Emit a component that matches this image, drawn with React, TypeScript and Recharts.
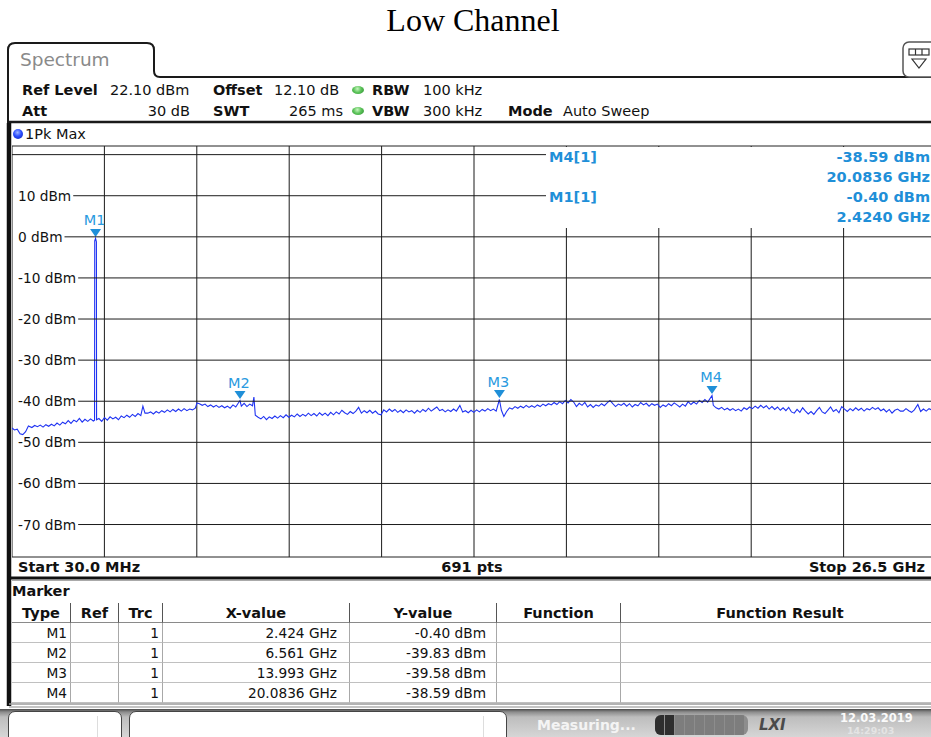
import React from 'react';
import { ComposedChart, Line, Scatter, XAxis, YAxis, CartesianGrid } from 'recharts';

const F = '"DejaVu Sans", Verdana, sans-serif';
const MK = '#1f8fd8';

const START_GHZ = 0.03;
const STOP_GHZ = 26.5;
const REF_LEVEL = 22.1;
const BOTTOM_LEVEL = -77.9;

const yTicks = [20, 10, 0, -10, -20, -30, -40, -50, -60, -70];
const yTickLabels = ['', '10 dBm', '0 dBm', '-10 dBm', '-20 dBm', '-30 dBm', '-40 dBm', '-50 dBm', '-60 dBm', '-70 dBm'];
const xGridGHz = [2.677, 5.324, 7.971, 10.618, 13.265, 15.912, 18.559, 21.206, 23.853];

// trace: [frequency GHz, level dBm]
const traceLow: [number, number][] = [
  [0.03, -46.5], [0.10, -47.0], [0.18, -46.8], [0.26, -47.9], [0.34, -48.1], [0.42, -47.4], [0.50, -46.0],
  [0.60, -46.4], [0.68, -45.9], [0.76, -46.2], [0.84, -45.8], [0.92, -46.3], [1.00, -45.7], [1.08, -46.1],
  [1.16, -45.6], [1.24, -46.0], [1.32, -45.3], [1.40, -45.8], [1.48, -45.1], [1.56, -45.5], [1.64, -44.7],
  [1.72, -45.4], [1.80, -44.6], [1.88, -45.0], [1.96, -44.2], [2.04, -45.1], [2.12, -44.4], [2.20, -44.9],
  [2.28, -44.3], [2.36, -44.8], [2.395, -44.6], [2.40, -1.0], [2.424, -0.4], [2.448, -1.2], [2.453, -44.5],
  [2.52, -44.2], [2.60, -44.9], [2.68, -44.0], [2.76, -44.6], [2.84, -43.8], [2.92, -44.3], [3.00, -43.9],
  [3.08, -44.5], [3.16, -43.6], [3.24, -44.0], [3.32, -43.4], [3.40, -43.9], [3.48, -43.2], [3.56, -43.7],
  [3.64, -43.0], [3.72, -43.5], [3.78, -41.2], [3.84, -42.9], [3.92, -42.9], [4.00, -42.6], [4.08, -43.1],
  [4.16, -42.5], [4.24, -42.9], [4.32, -42.3], [4.40, -42.7], [4.48, -42.1], [4.56, -42.6], [4.64, -42.0],
  [4.72, -42.5], [4.80, -41.9], [4.88, -42.4], [4.96, -41.8], [5.04, -42.3], [5.12, -41.9], [5.20, -42.1],
  [5.28, -41.7], [5.33, -40.4], [5.40, -40.6], [5.48, -41.0], [5.56, -40.7], [5.64, -41.3], [5.72, -40.9],
  [5.80, -41.4], [5.88, -41.0], [5.96, -41.5], [6.04, -41.1], [6.12, -41.6], [6.20, -41.2], [6.28, -41.7],
  [6.36, -40.9], [6.44, -41.4], [6.50, -40.6], [6.561, -39.83], [6.60, -41.2], [6.68, -40.5], [6.76, -41.3],
  [6.84, -40.7], [6.92, -41.1], [6.96, -39.0], [7.00, -43.4], [7.08, -43.9], [7.16, -44.3], [7.24, -43.7],
  [7.32, -44.5], [7.40, -43.8], [7.48, -44.2], [7.56, -43.6], [7.64, -44.1], [7.72, -43.5], [7.80, -44.0],
  [7.88, -43.3], [7.96, -43.9], [8.04, -43.4], [8.12, -43.8], [8.20, -43.1], [8.28, -43.7], [8.36, -43.2],
  [8.44, -43.6], [8.52, -42.9], [8.60, -43.5], [8.68, -43.0], [8.76, -43.6], [8.84, -42.8], [8.92, -43.4],
  [9.00, -42.9], [9.08, -43.5], [9.16, -42.7], [9.24, -43.3], [9.32, -42.6], [9.40, -43.1], [9.48, -42.2],
  [9.56, -42.8], [9.64, -43.2], [9.72, -42.5], [9.80, -43.0], [9.88, -42.4], [9.96, -41.5], [10.04, -42.9],
  [10.12, -42.3], [10.20, -42.8], [10.28, -42.2], [10.36, -42.9], [10.44, -42.4], [10.52, -43.1], [10.60, -43.3],
  [10.68, -42.1], [10.76, -42.6], [10.84, -41.9], [10.92, -42.5], [11.00, -42.0], [11.08, -42.7], [11.16, -42.2],
  [11.24, -42.8], [11.32, -42.1], [11.40, -42.6], [11.48, -42.3], [11.56, -42.9], [11.64, -42.2], [11.72, -42.7],
  [11.80, -42.0], [11.88, -42.5], [11.96, -41.7], [12.04, -42.4], [12.12, -41.9], [12.20, -41.4], [12.28, -42.3],
  [12.36, -42.0], [12.44, -42.6], [12.52, -42.1], [12.60, -42.5], [12.68, -41.9], [12.76, -42.4], [12.86, -41.0],
  [12.94, -42.6], [13.02, -42.3], [13.10, -42.8], [13.18, -42.2], [13.26, -42.7], [13.34, -42.1], [13.42, -42.6],
  [13.50, -42.0], [13.58, -42.4], [13.66, -41.8], [13.74, -42.3], [13.82, -41.9], [13.90, -42.4], [13.993, -39.58],
];

const traceHigh: [number, number][] = [
  [14.05, -42.2], [14.12, -43.7], [14.20, -42.5], [14.28, -41.6], [14.36, -41.9], [14.44, -41.3], [14.52, -41.7],
  [14.60, -41.2], [14.68, -41.6], [14.76, -41.0], [14.84, -41.5], [14.92, -41.1], [15.00, -41.5], [15.08, -40.9],
  [15.16, -41.3], [15.24, -40.7], [15.32, -41.1], [15.40, -40.6], [15.48, -40.9], [15.56, -40.3], [15.64, -40.8],
  [15.72, -40.1], [15.80, -40.6], [15.88, -39.8], [15.96, -40.4], [16.04, -39.6], [16.12, -40.2], [16.20, -41.3],
  [16.28, -40.5], [16.36, -41.0], [16.44, -40.3], [16.52, -41.4], [16.60, -40.8], [16.68, -41.5], [16.76, -40.9],
  [16.84, -41.2], [16.92, -40.6], [17.00, -41.1], [17.08, -40.4], [17.16, -39.8], [17.24, -40.6], [17.32, -41.3],
  [17.40, -40.7], [17.48, -41.0], [17.56, -40.5], [17.64, -41.2], [17.72, -40.6], [17.80, -41.4], [17.88, -40.8],
  [17.96, -41.1], [18.04, -40.3], [18.12, -40.9], [18.20, -40.5], [18.28, -41.2], [18.36, -40.6], [18.44, -41.0],
  [18.52, -40.7], [18.60, -41.5], [18.68, -40.9], [18.76, -41.3], [18.84, -40.6], [18.92, -41.1], [19.00, -40.4],
  [19.08, -40.9], [19.16, -41.4], [19.24, -40.7], [19.32, -41.2], [19.40, -40.1], [19.48, -40.8], [19.56, -40.2],
  [19.64, -40.7], [19.72, -39.8], [19.80, -40.3], [19.88, -39.6], [19.96, -40.2], [20.0836, -38.59], [20.12, -41.0],
  [20.20, -41.6], [20.28, -41.9], [20.36, -41.5], [20.44, -42.1], [20.52, -41.7], [20.60, -42.2], [20.68, -41.8],
  [20.76, -42.3], [20.84, -41.9], [20.92, -42.4], [21.00, -41.6], [21.08, -42.0], [21.16, -41.4], [21.24, -41.8],
  [21.32, -41.2], [21.40, -41.7], [21.48, -41.0], [21.56, -41.6], [21.64, -41.1], [21.72, -41.9], [21.80, -41.3],
  [21.88, -42.0], [21.96, -41.4], [22.04, -42.2], [22.12, -41.6], [22.20, -42.3], [22.28, -41.5], [22.36, -42.6],
  [22.44, -42.9], [22.52, -42.0], [22.60, -42.7], [22.68, -41.6], [22.76, -42.4], [22.84, -43.1], [22.92, -42.5],
  [23.00, -43.2], [23.08, -42.3], [23.16, -41.5], [23.24, -42.6], [23.32, -43.0], [23.40, -42.2], [23.48, -41.4],
  [23.56, -42.5], [23.64, -42.0], [23.72, -42.8], [23.80, -41.3], [23.88, -41.9], [23.96, -42.5], [24.04, -41.8],
  [24.12, -42.3], [24.20, -41.6], [24.28, -42.2], [24.36, -41.7], [24.44, -42.4], [24.52, -41.8], [24.60, -42.1],
  [24.68, -41.5], [24.76, -42.0], [24.84, -41.6], [24.92, -42.3], [25.00, -41.9], [25.08, -42.6], [25.16, -42.0],
  [25.24, -42.9], [25.32, -42.2], [25.40, -41.9], [25.48, -42.4], [25.56, -42.4], [25.64, -41.8], [25.72, -42.3],
  [25.80, -42.7], [25.88, -42.1], [25.98, -40.8], [26.06, -42.5], [26.14, -41.9], [26.22, -42.4], [26.30, -41.8],
  [26.40, -42.2], [26.50, -41.9],
];

const markers = [
  { name: 'M1', f: 2.424, v: -0.4 },
  { name: 'M2', f: 6.561, v: -39.83 },
  { name: 'M3', f: 13.993, v: -39.58 },
  { name: 'M4', f: 20.0836, v: -38.59 },
];

const tableColEdges = [12, 71, 119, 163, 350, 497, 621, 940];
const tableHeaders = ['Type', 'Ref', 'Trc', 'X-value', 'Y-value', 'Function', 'Function Result'];
const tableRows = [
  ['M1', '', '1', '2.424 GHz', '-0.40 dBm', '', ''],
  ['M2', '', '1', '6.561 GHz', '-39.83 dBm', '', ''],
  ['M3', '', '1', '13.993 GHz', '-39.58 dBm', '', ''],
  ['M4', '', '1', '20.0836 GHz', '-38.59 dBm', '', ''],
];
const cellPadRight = [3, 3, 3, 12, 10, 4, 4];

const traceData = [...traceLow, ...traceHigh].map(([f, v]) => ({ f, v }));

type TxtProps = { x: number; y: number; align?: 'left' | 'right' | 'center'; bold?: boolean; size?: number; color?: string; family?: string; children?: React.ReactNode; italic?: boolean };
function Txt({ x, y, align = 'left', bold, size = 14.5, color = '#111', family = F, children, italic }: TxtProps) {
  const style: React.CSSProperties = {
    position: 'absolute', top: y - 10, height: 20, lineHeight: '20px', fontSize: size,
    fontWeight: bold ? 'bold' : 'normal', fontStyle: italic ? 'italic' : 'normal', color, fontFamily: family, whiteSpace: 'nowrap',
  };
  if (align === 'left') style.left = x;
  else if (align === 'right') { style.left = x - 400; style.width = 400; style.textAlign = 'right'; }
  else { style.left = x - 300; style.width = 600; style.textAlign = 'center'; }
  return <div style={style}>{children}</div>;
}

function Dot({ x, y, kind }: { x: number; y: number; kind: 'green' | 'blue' }) {
  const bg = kind === 'green'
    ? 'radial-gradient(circle at 45% 35%, #c8f5c0 0%, #5cc45a 45%, #2e8a30 100%)'
    : 'radial-gradient(circle at 45% 35%, #9fb4ff 0%, #2b4dff 45%, #0a1fb0 100%)';
  const w = kind === 'green' ? 12 : 10;
  const h = kind === 'green' ? 8 : 10;
  return <div style={{ position: 'absolute', left: x - w / 2, top: y - h / 2, width: w, height: h, borderRadius: '50%', background: bg }} />;
}

// approximate DejaVu Sans advance widths (em) for the tick label characters
const charEm: Record<string, number> = { '0': 0.636, '1': 0.636, '2': 0.636, '3': 0.636, '4': 0.636, '5': 0.636, '6': 0.636, '7': 0.636, '8': 0.636, '9': 0.636, '-': 0.361, ' ': 0.318, d: 0.635, B: 0.686, m: 0.974 };
const TICK_FS = 13.7;
const labelWidth = (s: string) => s.split('').reduce((a, ch) => a + (charEm[ch] ?? 0.6), 0) * TICK_FS;

// Y tick: the level's grid line, starting right after its label
const YTick = (props: any) => {
  const { y, payload } = props;
  const idx = yTicks.indexOf(payload.value);
  const label = idx >= 0 ? yTickLabels[idx] : '';
  const lineStart = label ? 6 + labelWidth(label) + 2 : 0;
  return (
    <g>
      <line x1={lineStart} y1={y} x2={924} y2={y} stroke="#1b1b1b" strokeWidth={1} />
      {label ? (
        <text x={6} y={y} dy={5} fontSize={TICK_FS} fontFamily={F} fill="#111" textAnchor="start">{label}</text>
      ) : null}
    </g>
  );
};

const MarkerShape = (props: any) => {
  const { cx, cy, payload } = props;
  if (cx == null || cy == null) return null;
  return (
    <g>
      <path d={`M${cx - 5.5},${cy - 9.5} L${cx + 5.5},${cy - 9.5} L${cx},${cy - 1.5} Z`} fill={MK} />
      <text x={cx - 1} y={cy - 13} textAnchor="middle" fontSize={14.5} fontFamily={F} fill="#2a9ae0">{payload.name}</text>
    </g>
  );
};

function Table() {
  const cells: React.ReactNode[] = [];
  tableHeaders.forEach((h, c) => {
    const l = tableColEdges[c];
    const w = tableColEdges[c + 1] - l;
    cells.push(
      <div key={'h' + c} style={{
        position: 'absolute', left: l, top: 603, width: w, height: 20, boxSizing: 'border-box',
        borderRight: '1px solid #555', borderBottom: '1px solid #8a8a8a', textAlign: 'center',
        fontFamily: F, fontWeight: 'bold', fontSize: 14.5, lineHeight: '20px', color: '#111', whiteSpace: 'nowrap',
      }}>{h}</div>
    );
  });
  tableRows.forEach((row, r) => {
    row.forEach((val, c) => {
      const l = tableColEdges[c];
      const w = tableColEdges[c + 1] - l;
      cells.push(
        <div key={'r' + r + 'c' + c} style={{
          position: 'absolute', left: l, top: 623 + r * 20, width: w, height: 20, boxSizing: 'border-box',
          borderRight: '1px solid #a8a8a8', borderBottom: '1px solid #c0c0c0', textAlign: 'right',
          paddingRight: cellPadRight[c], fontFamily: F, fontSize: 13.7, lineHeight: '20px', color: '#111', whiteSpace: 'nowrap',
        }}>{val}</div>
      );
    });
  });
  return <>{cells}</>;
}

export default function App() {
  return (
    <div style={{ position: 'absolute', left: 0, top: 0, width: 931, height: 737, overflow: 'hidden', background: '#fff' }}>
      {/* Title */}
      <div style={{ position: 'absolute', left: 0, top: 0, width: 946, height: 40, lineHeight: '40px', textAlign: 'center', fontFamily: '"Liberation Serif", "Times New Roman", serif', fontSize: 32, color: '#000' }}>Low Channel</div>

      {/* Spectrum tab label */}
      <Txt x={20} y={60} size={18.5} color="#8a8a8a">Spectrum</Txt>

      {/* Header rows */}
      <Txt x={22} y={90} bold>Ref Level</Txt>
      <Txt x={110} y={90}>22.10 dBm</Txt>
      <Txt x={213} y={90} bold>Offset</Txt>
      <Txt x={274} y={90}>12.10 dB</Txt>
      <Dot x={358} y={90} kind="green" />
      <Txt x={372} y={90} bold>RBW</Txt>
      <Txt x={423} y={90}>100 kHz</Txt>

      <Txt x={22} y={111} bold>Att</Txt>
      <Txt x={190} y={111} align="right">30 dB</Txt>
      <Txt x={213} y={111} bold>SWT</Txt>
      <Txt x={343} y={111} align="right">265 ms</Txt>
      <Dot x={358} y={111} kind="green" />
      <Txt x={372} y={111} bold>VBW</Txt>
      <Txt x={423} y={111}>300 kHz</Txt>
      <Txt x={508} y={111} bold>Mode</Txt>
      <Txt x={563} y={111}>Auto Sweep</Txt>

      {/* Trace label */}
      <Dot x={18} y={134} kind="blue" />
      <Txt x={25} y={134}>1Pk Max</Txt>

      {/* Chart */}
      <div style={{ position: 'absolute', left: 12, top: 146, width: 924, height: 411 }}>
        <ComposedChart width={924} height={411} margin={{ top: 0, right: 0, bottom: 0, left: 0 }}>
          <CartesianGrid stroke="#1b1b1b" strokeWidth={1} horizontal={false} />
          <XAxis type="number" dataKey="f" domain={[START_GHZ, STOP_GHZ]} ticks={xGridGHz} hide allowDataOverflow />
          <YAxis type="number" dataKey="v" domain={[BOTTOM_LEVEL, REF_LEVEL]} ticks={yTicks} interval={0} mirror
            axisLine={false} tickLine={false} tick={<YTick />} allowDataOverflow />
          <Line data={traceData} dataKey="v" type="linear" stroke="#1f33f2" strokeWidth={1.1} dot={false}
            isAnimationActive={false} />
          <Scatter data={markers} dataKey="v" shape={<MarkerShape />} isAnimationActive={false} />
        </ComposedChart>
      </div>

      {/* marker info box */}
      <div style={{ position: 'absolute', left: 546, top: 147, width: 400, height: 81, background: '#fff' }} />
      <Txt x={549} y={157} bold color={MK}>M4[1]</Txt>
      <Txt x={930} y={157} bold color={MK} align="right">-38.59 dBm</Txt>
      <Txt x={930} y={177} bold color={MK} align="right">20.0836 GHz</Txt>
      <Txt x={549} y={197} bold color={MK}>M1[1]</Txt>
      <Txt x={930} y={197} bold color={MK} align="right">-0.40 dBm</Txt>
      <Txt x={930} y={217} bold color={MK} align="right">2.4240 GHz</Txt>

      {/* Start / Stop row */}
      <Txt x={18} y={567} bold>Start 30.0 MHz</Txt>
      <Txt x={472} y={567} bold align="center">691 pts</Txt>
      <Txt x={925} y={567} bold align="right">Stop 26.5 GHz</Txt>

      {/* Marker table */}
      <Txt x={12} y={591} bold>Marker</Txt>
      <Table />

      {/* Status bar */}
      <div style={{ position: 'absolute', left: 0, top: 709, width: 931, height: 28, background: 'linear-gradient(to bottom, #4a4a4a 0px, #8c8c8c 3px, #bdbdbd 8px, #d6d6d6 100%)' }} />
      <div style={{ position: 'absolute', left: 8, top: 711, width: 114, height: 40, background: '#fff', border: '1.5px solid #444', borderRadius: 7, boxSizing: 'border-box' }} />
      <div style={{ position: 'absolute', left: 97, top: 716, width: 1, height: 21, background: '#ddd' }} />
      <div style={{ position: 'absolute', left: 129, top: 711, width: 378, height: 40, background: '#fff', border: '1.5px solid #444', borderRadius: 7, boxSizing: 'border-box' }} />
      <div style={{ position: 'absolute', left: 483, top: 716, width: 1, height: 21, background: '#ddd' }} />
      <Txt x={537} y={725} bold size={14} color="#f4f4f4">Measuring...</Txt>
      <div style={{ position: 'absolute', left: 655, top: 715, width: 93, height: 20, borderRadius: 6, background: '#8d8d8d', overflow: 'hidden', display: 'flex' }}>
        {[0, 1, 2, 3, 4, 5, 6, 7, 8].map((i) => (
          <div key={i} style={{ width: 9, height: 20, marginRight: 1, background: i < 2 ? '#2e2e2e' : '#7d7d7d' }} />
        ))}
      </div>
      <Txt x={759} y={725} bold italic size={15} color="#4a4a4a">LXI</Txt>
      <Txt x={840} y={718} bold size={11.5} color="#fafafa">12.03.2019</Txt>
      <Txt x={847} y={730.5} bold size={9.5} color="#e4e4e4">14:29:03</Txt>

      {/* Frame lines */}
      <svg width={931} height={737} style={{ position: 'absolute', left: 0, top: 0, pointerEvents: 'none' }}>
        <path d="M 8 124 L 8 50 Q 8 43 15 43 L 147 43 Q 154 43 154 50 L 154 71 Q 154 77 160 77 L 931 77" fill="none" stroke="#1a1a1a" strokeWidth={2} />
        <rect x={903} y={42} width={40} height={35} rx={6} fill="#fff" stroke="#555" strokeWidth={1.5} />
        <rect x={909} y={49} width={20} height={6} fill="#fff" stroke="#333" strokeWidth={1.2} />
        <line x1={915.5} y1={49} x2={915.5} y2={55} stroke="#333" strokeWidth={1.2} />
        <line x1={922} y1={49} x2={922} y2={55} stroke="#333" strokeWidth={1.2} />
        <path d="M 912 59 L 926 59 L 919 68 Z" fill="#fff" stroke="#333" strokeWidth={1.2} />
        <line x1={9} y1={122} x2={931} y2={122} stroke="#1a1a1a" strokeWidth={2.5} />
        <line x1={9} y1={123} x2={9} y2={706} stroke="#111" strokeWidth={4.5} />
        <line x1={12} y1={146} x2={931} y2={146} stroke="#222" strokeWidth={1} />
        <line x1={12} y1={557} x2={931} y2={557} stroke="#222" strokeWidth={1} />
        <line x1={9} y1={578} x2={931} y2={578} stroke="#111" strokeWidth={3} />
        <line x1={12} y1={580.5} x2={931} y2={580.5} stroke="#aaa" strokeWidth={1} />
        <line x1={9} y1={704} x2={931} y2={704} stroke="#9a9a9a" strokeWidth={1.5} />
        <line x1={9} y1={707} x2={931} y2={707} stroke="#b0b0b0" strokeWidth={1.5} />
      </svg>
    </div>
  );
}
